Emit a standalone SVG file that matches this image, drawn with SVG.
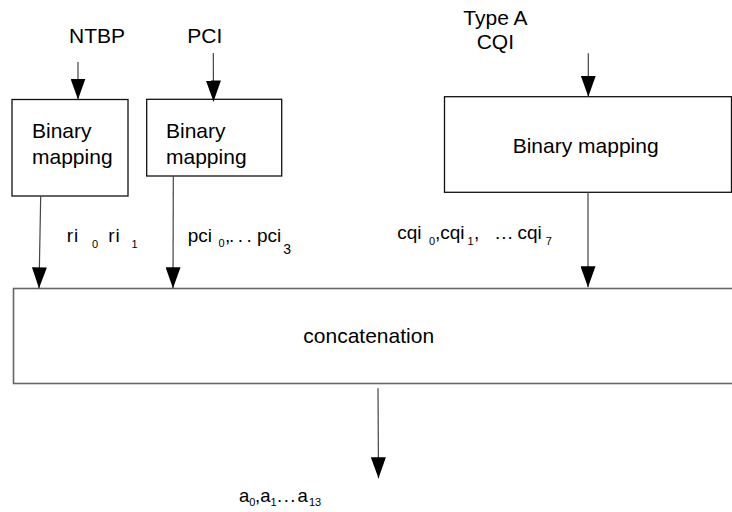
<svg xmlns="http://www.w3.org/2000/svg" width="732" height="512" viewBox="0 0 732 512">
<defs>
<marker id="ah" markerUnits="userSpaceOnUse" viewBox="0 0 21 15" refX="21" refY="7.5" markerWidth="21" markerHeight="15" orient="auto">
<path d="M0,0 L21,7.5 L0,15 Z" fill="#000"/>
</marker>
<style>
text{font-family:"Liberation Sans",Arial,sans-serif;font-size:21px;fill:#000}
.lab{font-size:19px}
.sub{font-size:11px}
.box{fill:#fff;stroke:#111;stroke-width:1.3}
.cbox{fill:#fff;stroke:#666;stroke-width:1.6}
.conn line{stroke:#444;stroke-width:1.2;marker-end:url(#ah)}
</style>
</defs>
<rect width="732" height="512" fill="#fff"/>

<g id="ntbp-label"><text x="69" y="42.7">NTBP</text></g>
<g id="pci-label"><text x="187.3" y="42.7">PCI</text></g>
<g id="cqi-label"><text x="463.3" y="25">Type A</text><text x="476.7" y="49.3">CQI</text></g>

<g id="bm1"><rect class="box" x="12" y="99.5" width="116" height="96.5"/><text x="32" y="138.3">Binary</text><text x="32" y="164">mapping</text></g>
<g id="bm2"><rect class="box" x="146.7" y="99.3" width="135" height="76.7"/><text x="166" y="138.3">Binary</text><text x="166" y="164">mapping</text></g>
<g id="bm3"><rect class="box" x="444.5" y="96.7" width="287" height="95.6"/><text x="512.7" y="153.3">Binary mapping</text></g>

<g id="concat"><rect class="cbox" x="13.5" y="288.5" width="730" height="95"/><text x="303.3" y="342.7">concatenation</text></g>

<g class="conn" id="connectors">
<line x1="78" y1="62" x2="78" y2="99.5"/>
<line x1="213.3" y1="53" x2="213.5" y2="101.5"/>
<line x1="588.3" y1="53.3" x2="588.3" y2="96.7"/>
<line x1="40.7" y1="196" x2="39" y2="288.3"/>
<line x1="173.3" y1="176" x2="173" y2="288.3"/>
<line x1="588" y1="192.3" x2="588" y2="287.3"/>
<line x1="378" y1="388.3" x2="378.5" y2="478.3"/>
</g>

<g id="labels">
<text class="lab" x="66.7" y="241.7" letter-spacing="1">ri<tspan class="sub" x="92" y="248" letter-spacing="0">0</tspan><tspan x="108.3" y="241.7">ri</tspan><tspan class="sub" x="131.5" y="248" letter-spacing="0">1</tspan></text>
<text class="lab" x="187.7" y="242">pci<tspan class="sub" x="218.5" y="246.5">0</tspan><tspan x="225" y="242">,</tspan><tspan x="229" y="242" letter-spacing="3.5">...</tspan><tspan x="257" y="242">pci</tspan><tspan style="font-size:14px" x="283.3" y="254">3</tspan></text>
<text class="lab" x="397.3" y="238.5">cqi<tspan class="sub" x="429" y="244.5">0</tspan><tspan x="435" y="238.5">,cqi</tspan><tspan class="sub" x="467.5" y="244.5">1</tspan><tspan x="474" y="238.5">,</tspan><tspan x="495" y="238.5" letter-spacing="1">...</tspan><tspan x="517.5" y="238.5">cqi</tspan><tspan class="sub" x="545.7" y="244.5">7</tspan></text>
<text class="lab" style="font-size:18.5px" x="239" y="501.7">a<tspan class="sub" x="249.3" y="506">0</tspan><tspan x="255" y="501.7">,a</tspan><tspan class="sub" x="270.5" y="506">1</tspan><tspan x="277" y="501.7" letter-spacing="1.5">...</tspan><tspan x="297.5" y="501.7">a</tspan><tspan class="sub" x="309" y="506">13</tspan></text>
</g>
</svg>
